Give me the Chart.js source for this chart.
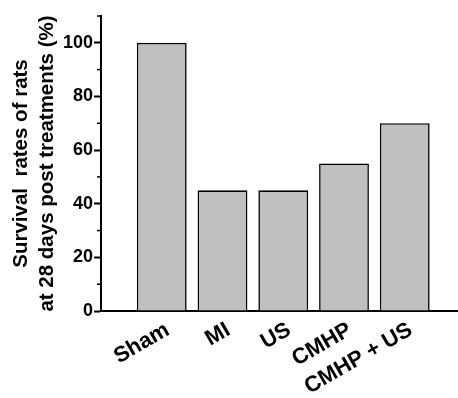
<!DOCTYPE html>
<html>
<head>
<meta charset="utf-8">
<script src="https://cdn.jsdelivr.net/npm/chart.js@4.4.0/dist/chart.umd.min.js"></script>
<style>
  html, body { margin: 0; padding: 0; background: #fff; overflow: hidden; }
  #wrap { width: 458px; height: 398px; overflow: hidden; }
</style>
</head>
<body>
<div id="wrap"><canvas id="grafica" width="470" height="398"></canvas></div>
<script>
// groups, with an empty slot on each side (axis runs 0..6, bars at 1..5)
const grupos = ["", "Sham", "MI", "US", "CMHP", "CMHP + US", ""]
// survival rate in %
const supervivencia = [null, 100, 45, 45, 55, 70, null]
const ticksY = [0, 20, 40, 60, 80, 100]
const ticksMenores = [10, 30, 50, 70, 90, 110]
const tituloY = ["Survival  rates of rats", "at 28 days post treatments (%)"]

const fuente = "'Liberation Sans', Arial, sans-serif"

// minor ticks on the y axis (Chart.js only has one tick length)
const marcasMenores = {
    id: "marcasMenores",
    afterDraw(chart) {
        const ctx = chart.ctx
        const escala = chart.scales.y
        const izq = chart.chartArea.left
        ctx.save()
        ctx.strokeStyle = "#000"
        ctx.lineWidth = 1.5
        for (const v of ticksMenores) {
            const py = escala.getPixelForValue(v)
            ctx.beginPath()
            ctx.moveTo(izq - 4, py)
            ctx.lineTo(izq, py)
            ctx.stroke()
        }
        ctx.restore()
    }
}

const grafica = document.getElementById("grafica").getContext("2d")

new Chart(grafica, {
    type: "bar",
    data: {
        labels: grupos,
        datasets: [{
            data: supervivencia,
            backgroundColor: "#c0c0c0",
            borderColor: "#000",
            borderWidth: 1.6,
            barPercentage: 0.82,
            categoryPercentage: 1
        }]
    },
    options: {
        responsive: false,
        animation: false,
        layout: { padding: { top: 16, right: 4.5, left: 0, bottom: 0 } },
        plugins: {
            legend: { display: false },
            tooltip: { enabled: false }
        },
        scales: {
            x: {
                offset: false,
                grid: { display: false, drawTicks: false },
                border: { display: true, color: "#000", width: 2 },
                ticks: {
                    autoSkip: false,
                    minRotation: 30,
                    maxRotation: 30,
                    padding: 6,
                    labelOffset: 6,
                    color: "#000",
                    font: { family: fuente, size: 22, weight: "bold" }
                },
                afterFit: s => {
                    s.height = 87
                    s.paddingLeft = 0
                    s.paddingRight = 0
                }
            },
            y: {
                min: 0,
                max: 110,
                afterBuildTicks: s => { s.ticks = ticksY.map(v => ({ value: v })) },
                grid: {
                    drawOnChartArea: false,
                    drawTicks: true,
                    tickLength: 7,
                    tickColor: "#000",
                    tickWidth: 2
                },
                border: { display: true, color: "#000", width: 2 },
                ticks: {
                    padding: 1,
                    color: "#000",
                    font: { family: fuente, size: 18, weight: "bold" }
                },
                title: {
                    display: true,
                    text: tituloY,
                    color: "#000",
                    padding: { top: 9, bottom: 0 },
                    font: { family: fuente, size: 20.5, weight: "bold", lineHeight: 1.25 }
                },
                afterFit: s => {
                    s.width = 101
                    s.paddingTop = 0
                    s.paddingBottom = 0
                }
            }
        }
    },
    plugins: [marcasMenores]
})
</script>
</body>
</html>
